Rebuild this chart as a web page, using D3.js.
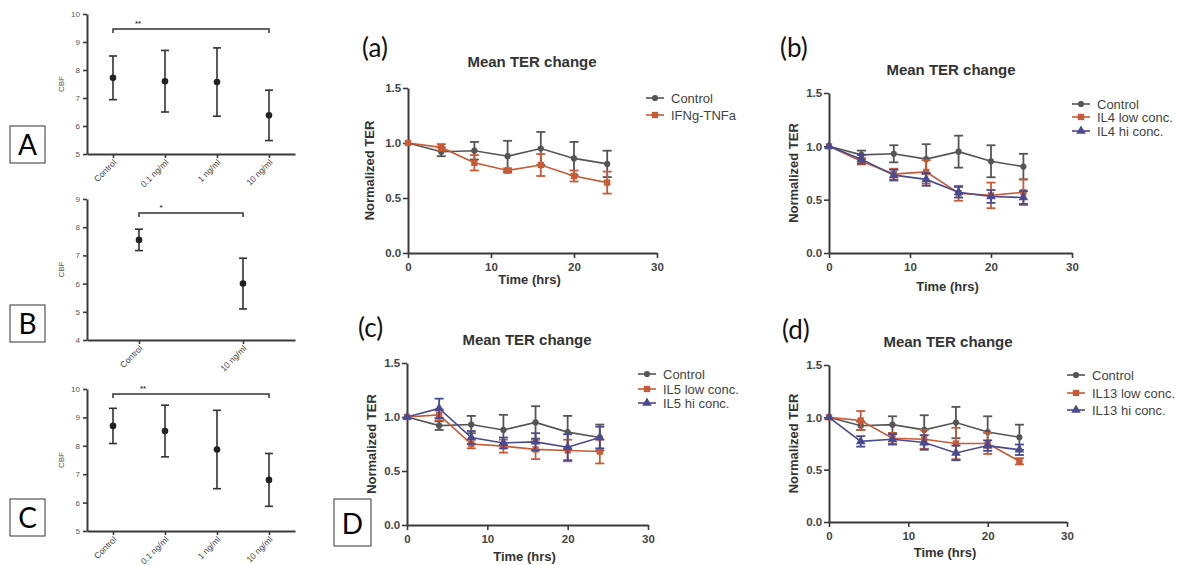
<!DOCTYPE html>
<html>
<head>
<meta charset="utf-8">
<script src="https://cdn.jsdelivr.net/npm/d3@7"></script>
<style>
body { margin: 0; background: #fff; }
svg { font-family: "Liberation Sans", Arial, sans-serif; }
</style>
</head>
<body>
<svg width="1185" height="565"></svg>
<script>
// CBF panels A, B, C
let cbfCats4 = ["Control", "0.1 ng/ml", "1 ng/ml", "10 ng/ml"];
let cbfCats2 = ["Control", "10 ng/ml"];
let cbfMeanA = [7.72, 7.6, 7.57, 6.38];
let cbfErrA = [0.78, 1.1, 1.22, 0.9];
let cbfMeanB = [7.55, 6.0];
let cbfErrB = [0.38, 0.9];
let cbfMeanC = [8.7, 8.52, 7.87, 6.8];
let cbfErrC = [0.62, 0.91, 1.38, 0.93];

// TER panels a-d
let hours = [0, 4, 8, 12, 16, 20, 24];
let ctrlMean = [1.0, 0.92, 0.93, 0.88, 0.95, 0.86, 0.81];
let ctrlErr = [0, 0.04, 0.08, 0.14, 0.15, 0.15, 0.12];
let ifngMean = [1.0, 0.96, 0.82, 0.75, 0.80, 0.70, 0.64];
let ifngErr = [0, 0.03, 0.07, 0.02, 0.10, 0.05, 0.10];
let il4LowMean = [1.0, 0.86, 0.74, 0.76, 0.56, 0.54, 0.57];
let il4LowErr = [0, 0.03, 0.05, 0.11, 0.07, 0.12, 0.12];
let il4HiMean = [1.0, 0.88, 0.73, 0.69, 0.57, 0.53, 0.52];
let il4HiErr = [0, 0.04, 0.05, 0.06, 0.05, 0.06, 0.06];
let il5LowMean = [1.0, 1.02, 0.75, 0.73, 0.70, 0.69, 0.68];
let il5LowErr = [0, 0.05, 0.04, 0.06, 0.09, 0.10, 0.11];
let il5HiMean = [1.0, 1.08, 0.81, 0.76, 0.77, 0.72, 0.81];
let il5HiErr = [0, 0.09, 0.06, 0.05, 0.08, 0.12, 0.10];
let il13LowMean = [1.0, 0.97, 0.80, 0.79, 0.75, 0.75, 0.58];
let il13LowErr = [0, 0.09, 0.05, 0.09, 0.15, 0.10, 0.03];
let il13HiMean = [1.0, 0.77, 0.79, 0.76, 0.66, 0.73, 0.69];
let il13HiErr = [0, 0.05, 0.05, 0.07, 0.07, 0.05, 0.05];

let svg = d3.select("svg");

let grey = "#555", red = "#c95a36", blue = "#4a4a8e";

function styleAxis(g, w) {
    g.select(".domain").attr("stroke", "#3a3a3a").attr("stroke-width", w);
    g.selectAll(".tick line").attr("stroke", "#3a3a3a").attr("stroke-width", w * 0.8);
}

function cbfPanel(c) {
    let g = svg.append("g");
    let x = d3.scalePoint().domain(c.cats).range([87, 295]).padding(0.5);
    let y = d3.scaleLinear().domain(c.domain).range([c.bottom, c.top]);

    let ya = g.append("g")
        .attr("transform", "translate(87,0)")
        .call(d3.axisLeft(y).ticks(c.domain[1] - c.domain[0]).tickFormat(d3.format("d")).tickSize(4).tickSizeOuter(0));
    styleAxis(ya, 2);
    ya.selectAll("text").attr("font-size", 8).attr("fill", "#555");

    let xa = g.append("g")
        .attr("transform", "translate(0," + c.bottom + ")")
        .call(d3.axisBottom(x).tickSize(4).tickSizeOuter(0).tickFormat(""));
    styleAxis(xa, 2);

    g.selectAll(".cat")
        .data(c.cats)
        .enter().append("text")
        .attr("transform", d => "translate(" + (x(d) + 4) + "," + (c.bottom + 9) + ") rotate(-45)")
        .attr("text-anchor", "end")
        .attr("font-size", 8.5)
        .attr("fill", "#444")
        .text(d => d);

    g.append("text")
        .attr("transform", "translate(64," + ((c.top + c.bottom) / 2) + ") rotate(-90)")
        .attr("text-anchor", "middle")
        .attr("font-size", 8)
        .attr("fill", "#555")
        .text("CBF");

    c.mean.forEach((m, i) => {
        let cx = x(c.cats[i]);
        g.append("line").attr("x1", cx).attr("x2", cx)
            .attr("y1", y(m - c.err[i])).attr("y2", y(m + c.err[i]))
            .attr("stroke", "#333").attr("stroke-width", 1.6);
        [m - c.err[i], m + c.err[i]].forEach(v => {
            g.append("line").attr("x1", cx - 4).attr("x2", cx + 4)
                .attr("y1", y(v)).attr("y2", y(v))
                .attr("stroke", "#333").attr("stroke-width", 1.6);
        });
        g.append("circle").attr("cx", cx).attr("cy", y(m)).attr("r", 3.3).attr("fill", "#222");
    });

    // significance bracket
    let bx1 = x(c.cats[0]), bx2 = x(c.cats[c.cats.length - 1]), by = y(c.sig);
    g.append("path")
        .attr("d", "M" + bx1 + "," + (by + 4) + "V" + by + "H" + bx2 + "V" + (by + 4))
        .attr("fill", "none").attr("stroke", "#333").attr("stroke-width", 1.5);
    g.append("text")
        .attr("x", bx1 + c.starDx).attr("y", by - 3)
        .attr("text-anchor", "middle")
        .attr("font-size", 8).attr("font-weight", "bold").attr("fill", "#444")
        .text(c.star);

    g.append("rect").attr("x", 10).attr("y", c.boxY).attr("width", 35).attr("height", 37)
        .attr("fill", "none").attr("stroke", "#333").attr("stroke-width", 1);
    g.append("text")
        .attr("x", 27.5).attr("y", c.boxY + 29)
        .attr("text-anchor", "middle")
        .attr("font-family", "Lato, 'Open Sans', sans-serif")
        .attr("font-size", 28)
        .text(c.letter);
}

cbfPanel({ cats: cbfCats4, mean: cbfMeanA, err: cbfErrA, domain: [5, 10], top: 14, bottom: 154, sig: 9.46, star: "**", starDx: 25, letter: "A", boxY: 126 });
cbfPanel({ cats: cbfCats2, mean: cbfMeanB, err: cbfErrB, domain: [4, 9], top: 199, bottom: 340, sig: 8.5, star: "*", starDx: 22, letter: "B", boxY: 305 });
cbfPanel({ cats: cbfCats4, mean: cbfMeanC, err: cbfErrC, domain: [5, 10], top: 389, bottom: 531, sig: 9.82, star: "**", starDx: 30, letter: "C", boxY: 499 });

// D box
svg.append("rect").attr("x", 334).attr("y", 499).attr("width", 37).attr("height", 47)
    .attr("fill", "none").attr("stroke", "#333").attr("stroke-width", 1);
svg.append("text").attr("x", 352.5).attr("y", 534).attr("text-anchor", "middle")
    .attr("font-family", "Lato, 'Open Sans', sans-serif").attr("font-size", 28).text("D");

function terPanel(p) {
    let g = svg.append("g");
    let x = d3.scaleLinear().domain([0, 30]).range([p.x0, p.x1]);
    let y = d3.scaleLinear().domain([0, 1.5]).range([p.y0, p.y1]);

    let xa = g.append("g")
        .attr("transform", "translate(0," + p.y0 + ")")
        .call(d3.axisBottom(x).tickValues([0, 10, 20, 30]).tickSize(5).tickSizeOuter(0));
    styleAxis(xa, 2);
    xa.selectAll("text").attr("font-size", 11.5).attr("font-weight", "bold").attr("fill", "#444").attr("dy", "0.9em");

    let ya = g.append("g")
        .attr("transform", "translate(" + p.x0 + ",0)")
        .call(d3.axisLeft(y).tickValues([0, 0.5, 1, 1.5]).tickFormat(d3.format(".1f")).tickSize(5).tickSizeOuter(0));
    styleAxis(ya, 2);
    ya.selectAll("text").attr("font-size", 11.5).attr("font-weight", "bold").attr("fill", "#444").attr("dx", "0.1em");

    g.append("text").attr("x", p.titleX).attr("y", p.titleY).attr("text-anchor", "middle")
        .attr("font-size", 15).attr("font-weight", "bold").attr("fill", "#333").text("Mean TER change");
    g.append("text").attr("x", (p.x0 + p.x1) / 2 - 3).attr("y", p.timeY).attr("text-anchor", "middle")
        .attr("font-size", 13).attr("font-weight", "bold").attr("fill", "#333").text("Time (hrs)");
    g.append("text")
        .attr("transform", "translate(" + p.ylabX + "," + ((p.y0 + p.y1) / 2) + ") rotate(-90)")
        .attr("text-anchor", "middle")
        .attr("font-size", 13).attr("font-weight", "bold").attr("fill", "#333").text("Normalized TER");
    g.append("text").attr("x", p.letterX).attr("y", p.letterY)
        .attr("font-family", "Lato, 'Open Sans', sans-serif").attr("font-size", 26).attr("fill", "#111")
        .text(p.letter);

    let line = d3.line().x((d, i) => x(hours[i])).y(d => y(d));

    p.series.forEach((s, k) => {
        let sg = g.append("g");
        sg.append("path").datum(s.mean)
            .attr("d", line).attr("fill", "none").attr("stroke", s.color).attr("stroke-width", 1.6);
        s.mean.forEach((m, i) => {
            let e = s.err[i];
            if (e <= 0) return;
            let cx = x(hours[i]);
            sg.append("line").attr("x1", cx).attr("x2", cx).attr("y1", y(m - e)).attr("y2", y(m + e))
                .attr("stroke", s.color).attr("stroke-width", 1.8);
            [m - e, m + e].forEach(v => {
                sg.append("line").attr("x1", cx - 4.5).attr("x2", cx + 4.5).attr("y1", y(v)).attr("y2", y(v))
                    .attr("stroke", s.color).attr("stroke-width", 1.8);
            });
        });
        sg.selectAll(".pt").data(s.mean).enter().append("path")
            .attr("transform", (d, i) => "translate(" + x(hours[i]) + "," + y(d) + ")")
            .attr("d", d3.symbol().type(s.shape).size(s.size))
            .attr("fill", s.color);

        // legend
        let ly = p.legY[k];
        g.append("line").attr("x1", p.legX).attr("x2", p.legX + 18).attr("y1", ly).attr("y2", ly)
            .attr("stroke", s.color).attr("stroke-width", 1.6);
        g.append("path").attr("transform", "translate(" + (p.legX + 9) + "," + ly + ")")
            .attr("d", d3.symbol().type(s.shape).size(s.size)).attr("fill", s.color);
        g.append("text").attr("x", p.legX + 25).attr("y", ly + 4.5)
            .attr("font-size", 13).attr("fill", "#444").text(s.name);
    });
}

let ctrl = { name: "Control", mean: ctrlMean, err: ctrlErr, color: grey, shape: d3.symbolCircle, size: 30 };

terPanel({
    letter: "(a)", letterX: 362, letterY: 57,
    x0: 408, x1: 657, y0: 253, y1: 88,
    titleX: 532, titleY: 67, timeY: 284, ylabX: 374,
    legX: 646, legY: [98, 115],
    series: [ctrl,
        { name: "IFNg-TNFa", mean: ifngMean, err: ifngErr, color: red, shape: d3.symbolSquare, size: 40 }]
});
terPanel({
    letter: "(b)", letterX: 780, letterY: 57,
    x0: 829, x1: 1072, y0: 253, y1: 93,
    titleX: 951, titleY: 75, timeY: 291, ylabX: 798,
    legX: 1072, legY: [104, 117, 131],
    series: [ctrl,
        { name: "IL4 low conc.", mean: il4LowMean, err: il4LowErr, color: red, shape: d3.symbolSquare, size: 40 },
        { name: "IL4 hi conc.", mean: il4HiMean, err: il4HiErr, color: blue, shape: d3.symbolTriangle, size: 40 }]
});
terPanel({
    letter: "(c)", letterX: 358, letterY: 337,
    x0: 407, x1: 648, y0: 525, y1: 363,
    titleX: 527, titleY: 345, timeY: 561, ylabX: 376,
    legX: 638, legY: [374, 389, 403],
    series: [ctrl,
        { name: "IL5 low conc.", mean: il5LowMean, err: il5LowErr, color: red, shape: d3.symbolSquare, size: 40 },
        { name: "IL5 hi conc.", mean: il5HiMean, err: il5HiErr, color: blue, shape: d3.symbolTriangle, size: 40 }]
});
terPanel({
    letter: "(d)", letterX: 782, letterY: 339,
    x0: 829, x1: 1067, y0: 522, y1: 365,
    titleX: 948, titleY: 347, timeY: 557, ylabX: 798,
    legX: 1067, legY: [375, 393, 410],
    series: [ctrl,
        { name: "IL13 low conc.", mean: il13LowMean, err: il13LowErr, color: red, shape: d3.symbolSquare, size: 40 },
        { name: "IL13 hi conc.", mean: il13HiMean, err: il13HiErr, color: blue, shape: d3.symbolTriangle, size: 40 }]
});
</script>
</body>
</html>
